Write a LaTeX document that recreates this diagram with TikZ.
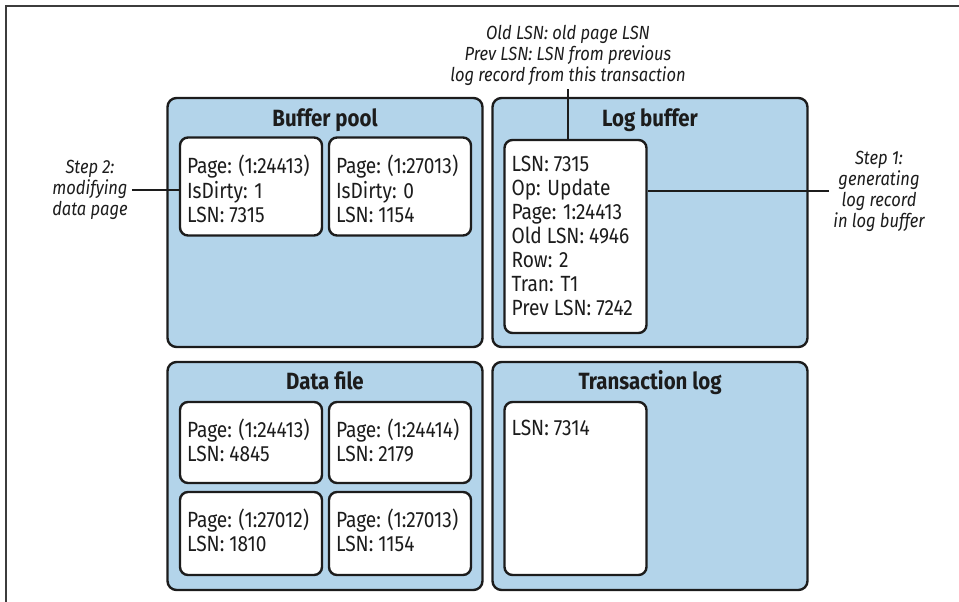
\documentclass[tikz,border=0pt]{standalone}
\usepackage{fontspec}
\setmainfont{Fira Sans}[FakeStretch=0.87]
\usetikzlibrary{positioning,calc}
\definecolor{poolblue}{RGB}{179,212,234}
\definecolor{inkdark}{RGB}{28,28,28}
\definecolor{framegray}{RGB}{60,60,60}
\tikzset{
  area/.style={draw=inkdark, fill=poolblue, line width=2.4pt, rounded corners=9pt,
               minimum width=315pt, inner sep=0pt},
  page/.style={draw=inkdark, fill=white, line width=2.4pt, rounded corners=8pt,
               minimum width=142pt, inner sep=0pt},
  ttl/.style={font=\fontsize{23.5}{26}\selectfont\bfseries, text=inkdark, inner sep=0pt, anchor=base},
  ptxt/.style={font=\fontsize{22}{24}\selectfont, text=inkdark, align=left,
               anchor=north west, inner sep=0pt},
  note/.style={font=\fontsize{19}{21}\selectfont\itshape, text=inkdark, align=center, inner sep=4pt},
  lead/.style={inkdark, line width=2.4pt},
}

\begin{document}
\begin{tikzpicture}[x=1pt, y=-1pt]
  \useasboundingbox (0,0) rectangle (959,602);
  % frame
  \draw[framegray, line width=1.4pt] (6,602) -- (6,6) -- (959,6);

  % the four areas
  \node[area, minimum height=249pt] (bp) at (325,222.5) {};
  \node[area, minimum height=249pt] (lb) at (650,222.5) {};
  \node[area, minimum height=228pt] (df) at (325,476) {};
  \node[area, minimum height=228pt] (tl) at (650,476) {};
  \node[ttl] (bpt) at ([yshift=-30pt]bp.north) {Buffer pool};
  \node[ttl] (lbt) at ([yshift=-30pt]lb.north) {Log buffer};
  \node[ttl] (dft) at ([yshift=-29pt]df.north) {Data file};
  \node[ttl] (tlt) at ([yshift=-29pt]tl.north) {Transaction log};

  % buffer pool pages
  \node[page, minimum height=98pt] (bp1) at (251,186.5) {};
  \node[page, minimum height=98pt] (bp2) at (400,186.5) {};
  \node[ptxt] (bp1x) at ([shift={(8pt,-18pt)}]bp1.north west)
    {\strut Page: (1:24413)\\IsDirty: 1\\LSN: 7315};
  \node[ptxt] (bp2x) at ([shift={(8pt,-18pt)}]bp2.north west)
    {\strut Page: (1:27013)\\IsDirty: 0\\LSN: 1154};

  % log record
  \node[page, minimum height=193pt] (rec) at (575.5,236.5) {};
  \node[ptxt] (recx) at ([shift={(8pt,-16pt)}]rec.north west)
    {\strut LSN: 7315\\Op: Update\\Page: 1:24413\\Old LSN: 4946\\Row: 2\\Tran: T1\\Prev LSN: 7242};

  % data file pages
  \node[page, minimum height=81pt] (df1) at (251,442.5) {};
  \node[page, minimum height=81pt] (df2) at (400,442.5) {};
  \node[page, minimum height=83pt] (df3) at (251,533.5) {};
  \node[page, minimum height=83pt] (df4) at (400,533.5) {};
  \node[ptxt] (df1x) at ([shift={(8pt,-18pt)}]df1.north west) {\strut Page: (1:24413)\\LSN: 4845};
  \node[ptxt] (df2x) at ([shift={(8pt,-18pt)}]df2.north west) {\strut Page: (1:24414)\\LSN: 2179};
  \node[ptxt] (df3x) at ([shift={(8pt,-18pt)}]df3.north west) {\strut Page: (1:27012)\\LSN: 1810};
  \node[ptxt] (df4x) at ([shift={(8pt,-18pt)}]df4.north west) {\strut Page: (1:27013)\\LSN: 1154};

  % transaction log
  \node[page, minimum height=173pt] (tl1) at (575.5,488.5) {};
  \node[ptxt] (tl1x) at ([shift={(8pt,-18pt)}]tl1.north west) {\strut LSN: 7314};

  % notes
  \node[note] (lsnnote) at (568,55) {Old LSN: old page LSN\\Prev LSN: LSN from previous\\log record from this transaction};
  \node[note] (step2) at (90,190) {Step 2:\\modifying\\data page};
  \node[note] (step1) at (879,191) {Step 1:\\generating\\log record\\in log buffer};
  \draw[lead] (lsnnote.south) -- (lsnnote.south |- rec.north);
  \draw[lead] (step2.east) -- (step2.east -| bp1.west);
  \draw[lead] (step1.west) -- (step1.west -| rec.east);
\end{tikzpicture}
\end{document}
